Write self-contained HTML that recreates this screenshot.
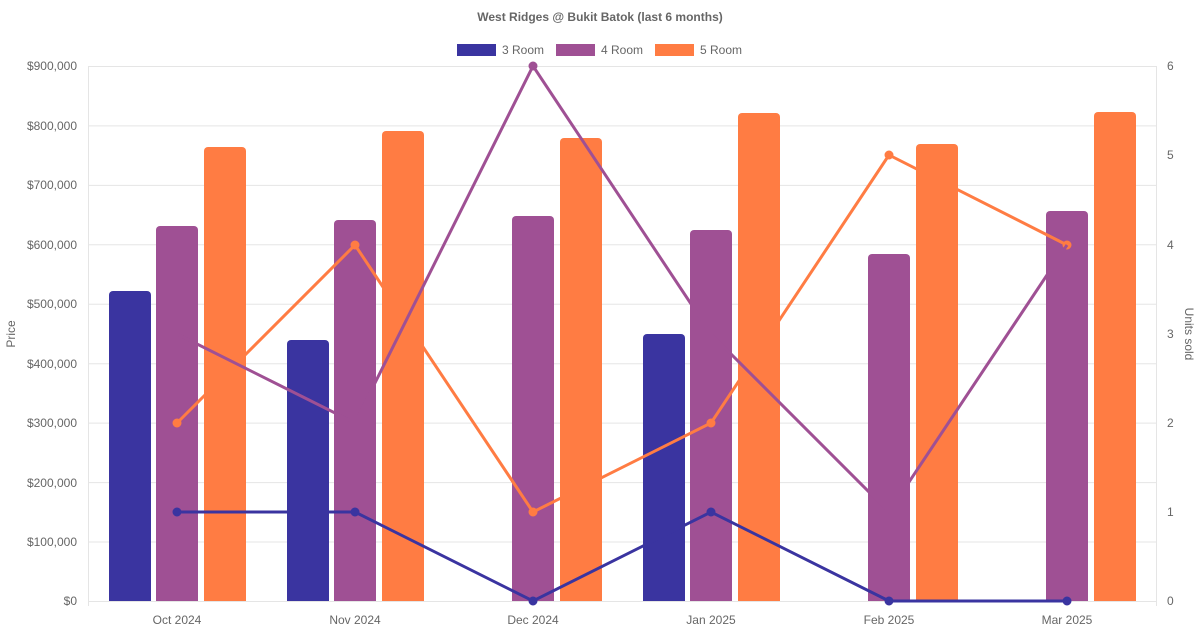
<!DOCTYPE html>
<html><head><meta charset="utf-8"><style>
html,body{margin:0;padding:0;background:#fff}
svg{display:block;font-family:"Liberation Sans",sans-serif}
</style></head><body>
<svg width="1200" height="630" viewBox="0 0 1200 630">
<text x="600" y="21" text-anchor="middle" font-size="12" font-weight="bold" fill="#666">West Ridges @ Bukit Batok (last 6 months)</text>
<rect x="457" y="44" width="39" height="12" fill="#3a34a0"/><text x="502" y="54" font-size="12" fill="#666">3 Room</text>
<rect x="556" y="44" width="39" height="12" fill="#9f5094"/><text x="601" y="54" font-size="12" fill="#666">4 Room</text>
<rect x="655" y="44" width="39" height="12" fill="#ff7c43"/><text x="700" y="54" font-size="12" fill="#666">5 Room</text>
<g stroke="#e5e5e5" stroke-width="1">
<line x1="88" y1="66.5" x2="1157" y2="66.5"/><line x1="88" y1="125.9" x2="1157" y2="125.9"/><line x1="88" y1="185.4" x2="1157" y2="185.4"/><line x1="88" y1="244.8" x2="1157" y2="244.8"/><line x1="88" y1="304.2" x2="1157" y2="304.2"/><line x1="88" y1="363.7" x2="1157" y2="363.7"/><line x1="88" y1="423.1" x2="1157" y2="423.1"/><line x1="88" y1="482.6" x2="1157" y2="482.6"/><line x1="88" y1="542" x2="1157" y2="542"/><line x1="88" y1="601.5" x2="1157" y2="601.5"/>
<line x1="88.5" y1="66" x2="88.5" y2="606"/><line x1="1156.5" y1="66" x2="1156.5" y2="606"/>
</g>
<g font-size="12" fill="#666" text-anchor="end">
<text x="77" y="70">$900,000</text><text x="77" y="130">$800,000</text><text x="77" y="189">$700,000</text><text x="77" y="249">$600,000</text><text x="77" y="308">$500,000</text><text x="77" y="368">$400,000</text><text x="77" y="427">$300,000</text><text x="77" y="487">$200,000</text><text x="77" y="546">$100,000</text><text x="77" y="605">$0</text>
</g>
<g font-size="12" fill="#666">
<text x="1167" y="70">6</text><text x="1167" y="159">5</text><text x="1167" y="249">4</text><text x="1167" y="338">3</text><text x="1167" y="427">2</text><text x="1167" y="516">1</text><text x="1167" y="605">0</text>
</g>
<g font-size="12" fill="#666" text-anchor="middle">
<text x="177" y="624">Oct 2024</text><text x="355" y="624">Nov 2024</text><text x="533" y="624">Dec 2024</text><text x="711" y="624">Jan 2025</text><text x="889" y="624">Feb 2025</text><text x="1067" y="624">Mar 2025</text>
</g>
<text transform="translate(15,334) rotate(-90)" text-anchor="middle" font-size="12" fill="#666">Price</text>
<text transform="translate(1185,334) rotate(90)" text-anchor="middle" font-size="12" fill="#666">Units sold</text>
<g fill="#3a34a0">
<rect x="109" y="291" width="42" height="310" rx="4"/><rect x="109" y="320" width="42" height="281"/>
<rect x="287" y="340" width="42" height="261" rx="4"/><rect x="287" y="360" width="42" height="241"/>
<rect x="643" y="334" width="42" height="267" rx="4"/><rect x="643" y="360" width="42" height="241"/>
</g>
<g fill="#9f5094">
<rect x="156" y="226" width="42" height="375" rx="4"/><rect x="156" y="260" width="42" height="341"/>
<rect x="334" y="220" width="42" height="381" rx="4"/><rect x="334" y="260" width="42" height="341"/>
<rect x="512" y="216" width="42" height="385" rx="4"/><rect x="512" y="260" width="42" height="341"/>
<rect x="690" y="230" width="42" height="371" rx="4"/><rect x="690" y="260" width="42" height="341"/>
<rect x="868" y="254" width="42" height="347" rx="4"/><rect x="868" y="280" width="42" height="321"/>
<rect x="1046" y="211" width="42" height="390" rx="4"/><rect x="1046" y="260" width="42" height="341"/>
</g>
<g stroke="#ff7c43" stroke-width="3" fill="#ff7c43">
<polyline fill="none" points="177,423 355,245 533,512 711,423 889,155 1067,245"/>
<circle cx="177" cy="423" r="3"/><circle cx="355" cy="245" r="3"/><circle cx="533" cy="512" r="3"/><circle cx="711" cy="423" r="3"/><circle cx="889" cy="155" r="3"/><circle cx="1067" cy="245" r="3"/>
</g>
<g fill="#ff7c43">
<rect x="204" y="147" width="42" height="454" rx="4"/><rect x="204" y="180" width="42" height="421"/>
<rect x="382" y="131" width="42" height="470" rx="4"/><rect x="382" y="180" width="42" height="421"/>
<rect x="560" y="138" width="42" height="463" rx="4"/><rect x="560" y="180" width="42" height="421"/>
<rect x="738" y="113" width="42" height="488" rx="4"/><rect x="738" y="180" width="42" height="421"/>
<rect x="916" y="144" width="42" height="457" rx="4"/><rect x="916" y="180" width="42" height="421"/>
<rect x="1094" y="112" width="42" height="489" rx="4"/><rect x="1094" y="180" width="42" height="421"/>
</g>
<g stroke="#9f5094" stroke-width="3" fill="#9f5094">
<polyline fill="none" points="177,334 355,423 533,66 711,334 889,512 1067,245"/>
<circle cx="533" cy="66" r="3"/>
</g>
<g stroke="#3a34a0" stroke-width="3" fill="#3a34a0">
<polyline fill="none" points="177,512 355,512 533,601 711,512 889,601 1067,601"/>
<circle cx="177" cy="512" r="3"/><circle cx="355" cy="512" r="3"/><circle cx="533" cy="601" r="3"/><circle cx="711" cy="512" r="3"/><circle cx="889" cy="601" r="3"/><circle cx="1067" cy="601" r="3"/>
</g>
</svg>
</body></html>
